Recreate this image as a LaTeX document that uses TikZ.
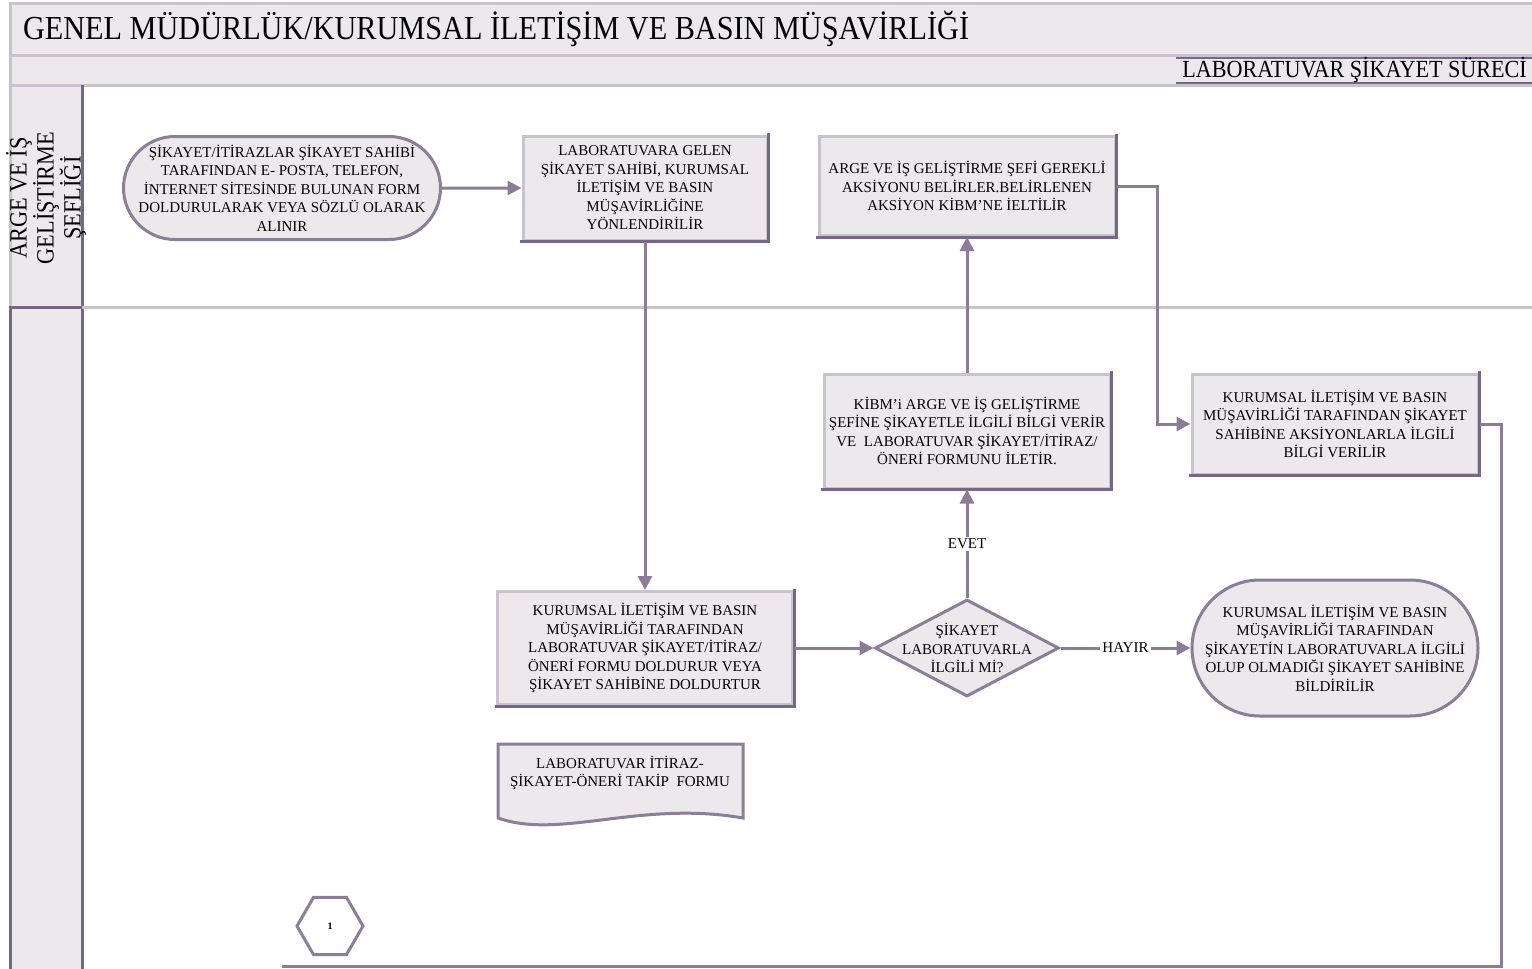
\documentclass[tikz,border=0pt]{standalone}
\usepackage{fontspec}
\setmainfont{Liberation Serif}
\newfontfamily\condfont[FakeStretch=0.9]{Liberation Serif}
\usetikzlibrary{arrows.meta,shapes.geometric,shapes.misc}

\definecolor{boxfill}{RGB}{236,233,237}
\definecolor{boxline}{RGB}{120,102,134}
\definecolor{boxlight}{RGB}{200,195,206}
\definecolor{flowline}{RGB}{140,124,152}

\begin{document}
\begin{tikzpicture}[
x=0.5pt,y=-0.5pt,
font=\fontsize{7.5}{9.25}\selectfont,
box/.style={rectangle,draw=boxlight,fill=boxfill,line width=1.5pt,align=center,inner sep=2pt,
  append after command={(\tikzlastnode.south west) edge[draw=boxline,line width=1.5pt,line cap=rect,to path={-| (\tikztotarget)}] (\tikzlastnode.north east)}},
terminal/.style={rounded rectangle,draw=boxline!85,fill=boxfill,line width=1.5pt,inner sep=0pt},
decision/.style={diamond,draw=boxline!85,fill=boxfill,line width=1.5pt,inner sep=0pt},
pagelink/.style={regular polygon,regular polygon sides=6,draw=boxline!85,line width=1.5pt,minimum size=33pt,inner sep=0pt,font=\fontsize{5}{6}\selectfont\bfseries},
connector/.style={draw=flowline,line width=1.5pt,-{Triangle[length=7pt,width=7pt]}},
plainline/.style={draw=flowline,line width=1.5pt},
flowlabel/.style={fill=white,inner sep=1pt}
]

\useasboundingbox (0,0) rectangle (1532,969);
\clip (0,0) rectangle (1532,969);

% Draw header bars
\draw [fill=boxfill,draw=boxlight,line width=1.5pt] (10,3) rectangle (1545,55);
\draw [fill=boxfill,draw=boxlight,line width=1.5pt] (10,55) rectangle (1545,85);
\draw [draw=boxline,line width=1.2pt] (1176,58) -- (1545,58);
\draw [draw=boxline,line width=1.2pt] (1176,83) -- (1545,83);
\node [anchor=west,font=\condfont\fontsize{16.8}{20}\selectfont] (title) at (16,29)
  {GENEL MÜDÜRLÜK/KURUMSAL İLETİŞİM VE BASIN MÜŞAVİRLİĞİ};
\node [anchor=west,font=\condfont\fontsize{12.3}{14}\selectfont,inner sep=0pt] (process) at (1182,70)
  {LABORATUVAR ŞİKAYET SÜRECİ};

% Draw swimlanes
\draw [fill=boxfill,draw=boxlight,line width=1.5pt] (10,85) rectangle (82,307);
\draw [fill=boxfill,draw=boxline,line width=1.5pt] (10,307) rectangle (82,980);
\draw [draw=boxline,line width=1.5pt] (82,85) -- (82,307);
\draw [draw=boxlight,line width=1.5pt] (82,307) -- (1545,307);
\node [rotate=90,align=center,font=\condfont\fontsize{12.4}{13.5}\selectfont] (lane) at (46,198)
  {ARGE VE İŞ\\GELİŞTİRME\\ŞEFLİĞİ};

% Draw process steps
\node [terminal,minimum width=158.5pt,minimum height=51.5pt,
  label={[align=center]center:ŞİKAYET/İTİRAZLAR ŞİKAYET SAHİBİ\\TARAFINDAN E- POSTA, TELEFON,\\İNTERNET SİTESİNDE BULUNAN FORM\\DOLDURULARAK VEYA SÖZLÜ OLARAK\\ALINIR}]
  (start) at (282,188) {};
\node [box,minimum width=122pt,minimum height=52pt] (route) at (645,188)
  {LABORATUVARA GELEN\\ŞİKAYET SAHİBİ, KURUMSAL\\İLETİŞİM VE BASIN\\MÜŞAVİRLİĞİNE\\YÖNLENDİRİLİR};
\node [box,minimum width=148pt,minimum height=49.5pt] (action) at (967,186)
  {ARGE VE İŞ GELİŞTİRME ŞEFİ GEREKLİ\\AKSİYONU BELİRLER.BELİRLENEN\\AKSİYON KİBM’NE İELTİLİR};
\node [box,minimum width=143pt,minimum height=57pt] (inform) at (967,431)
  {KİBM'i ARGE VE İŞ GELİŞTİRME\\ŞEFİNE ŞİKAYETLE İLGİLİ BİLGİ VERİR\\VE \ LABORATUVAR ŞİKAYET/İTİRAZ/\\ÖNERİ FORMUNU İLETİR.};
\node [box,minimum width=143pt,minimum height=50pt] (feedback) at (1335,424)
  {KURUMSAL İLETİŞİM VE BASIN\\MÜŞAVİRLİĞİ TARAFINDAN ŞİKAYET\\SAHİBİNE AKSİYONLARLA İLGİLİ\\BİLGİ VERİLİR};
\node [box,minimum width=147.5pt,minimum height=56.5pt] (formfill) at (645,648)
  {KURUMSAL İLETİŞİM VE BASIN\\MÜŞAVİRLİĞİ TARAFINDAN\\LABORATUVAR ŞİKAYET/İTİRAZ/\\ÖNERİ FORMU DOLDURUR VEYA\\ŞİKAYET SAHİBİNE DOLDURTUR};
\node [decision,minimum width=92pt,minimum height=48.5pt,
  label={[align=center]center:ŞİKAYET\\LABORATUVARLA\\İLGİLİ Mİ?}]
  (query) at (967,648) {};
\node [terminal,minimum width=143pt,minimum height=68pt,
  label={[align=center]center:KURUMSAL İLETİŞİM VE BASIN\\MÜŞAVİRLİĞİ TARAFINDAN\\ŞİKAYETİN LABORATUVARLA İLGİLİ\\OLUP OLMADIĞI ŞİKAYET SAHİBİNE\\BİLDİRİLİR}]
  (reply) at (1335,648) {};

% Draw document
\draw [fill=boxfill,draw=boxline!85,line width=1.5pt]
  (498,744) -- (743,744) -- (743,818) .. controls (640,800) and (560,840) .. (498,818) -- cycle;
\node [align=center] (form) at (620,773) {LABORATUVAR İTİRAZ-\\ŞİKAYET-ÖNERİ TAKİP \ FORMU};

% Draw page link
\node [pagelink] (page) at (330,926) {1};

% Draw connectors
\draw [connector] (start) -- (route);
\draw [connector] (route) -- (formfill);
\draw [connector] (formfill) -- (query);
\draw [connector] (query) -- node [flowlabel] {EVET} (inform);
\draw [connector] (inform) -- (action);
\draw [connector] (action.east) -- ++(41,0) |- (feedback);
\draw [connector] (query) -- node [flowlabel] {HAYIR} (reply);

\coordinate (turn) at (1501,966);
\coordinate (pageend) at (282,966);
\draw [plainline] (feedback.east) -| (turn) -- (pageend);

\end{tikzpicture}
\end{document}
